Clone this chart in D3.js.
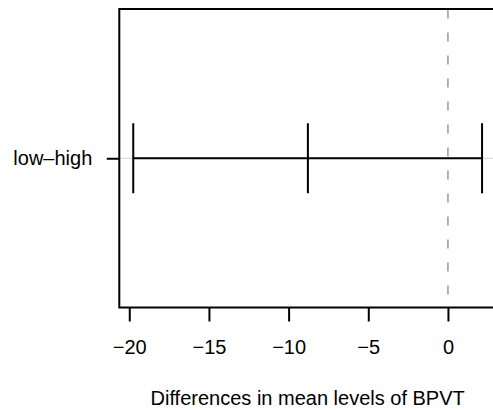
<!DOCTYPE html>
<html>
<head>
<meta charset="utf-8">
<script src="https://cdn.jsdelivr.net/npm/d3@7"></script>
<style>
  body { margin: 0; background: #fff; }
  text { font-family: "Liberation Sans", Arial, sans-serif; }
</style>
</head>
<body>
<div id="chart"></div>
<script>
// Tukey HSD: one comparison, 95% family-wise confidence level
var comparisons = ["low\u2013high"];
var diffs = [-8.79];
var lowers = [-19.75];
var uppers = [2.14];
var xTicks = [-20, -15, -10, -5, 0];
var xTitle = "Differences in mean levels of BPVT";

var width = 493, height = 410;
var margin = { top: 9, right: -3, bottom: 102.5, left: 119.3 };
var plotW = width - margin.left - margin.right,
    plotH = height - margin.top - margin.bottom;

var svg = d3.select("#chart")
    .append("svg")
    .attr("width", width)
    .attr("height", height)
    .append("g")
    .attr("transform", "translate(" + margin.left + "," + margin.top + ")");

// R-style 4% extension of the data range
var lo = d3.min(lowers), hi = d3.max(uppers), ext = (hi - lo) * 0.04;
var x = d3.scaleLinear()
    .domain([lo - ext, hi + ext])
    .range([0, plotW]);

var n = comparisons.length;
var yExt = n * 0.04;
var y = d3.scaleLinear()
    .domain([0.5 - yExt, n + 0.5 + yExt])
    .range([plotH, 0]);

// light grey guide for each comparison
svg.selectAll("line.guide")
    .data(comparisons)
    .enter().append("line")
    .attr("class", "guide")
    .attr("x1", 0).attr("x2", plotW)
    .attr("y1", function (d, i) { return y(n - i); })
    .attr("y2", function (d, i) { return y(n - i); })
    .attr("stroke", "#d3d3d3")
    .attr("stroke-width", 1);

// zero line
svg.append("line")
    .attr("x1", x(0)).attr("x2", x(0))
    .attr("y1", 0).attr("y2", plotH)
    .attr("stroke", "#7f7f7f")
    .attr("stroke-width", 1.2)
    .attr("stroke-dasharray", "9,14")
    .attr("stroke-dashoffset", -0.5);

// interval segments
svg.selectAll("line.ci")
    .data(comparisons)
    .enter().append("line")
    .attr("class", "ci")
    .attr("x1", function (d, i) { return x(lowers[i]); })
    .attr("x2", function (d, i) { return x(uppers[i]); })
    .attr("y1", function (d, i) { return y(n - i); })
    .attr("y2", function (d, i) { return y(n - i); })
    .attr("stroke", "#000")
    .attr("stroke-width", 2);

// "|" marks at lower, estimate, upper
var marks = [];
comparisons.forEach(function (d, i) {
    marks.push({ v: lowers[i], r: n - i });
    marks.push({ v: diffs[i], r: n - i });
    marks.push({ v: uppers[i], r: n - i });
});
svg.selectAll("line.mark")
    .data(marks)
    .enter().append("line")
    .attr("class", "mark")
    .attr("x1", function (d) { return x(d.v); })
    .attr("x2", function (d) { return x(d.v); })
    .attr("y1", function (d) { return y(d.r) - 35; })
    .attr("y2", function (d) { return y(d.r) + 35; })
    .attr("stroke", "#000")
    .attr("stroke-width", 2);

// bottom axis
var xAxis = svg.append("g")
    .attr("transform", "translate(0," + plotH + ")")
    .call(d3.axisBottom(x).tickValues(xTicks).tickSize(14).tickSizeOuter(0).tickPadding(18.5));
xAxis.select(".domain").remove();
xAxis.selectAll("line").attr("stroke", "#000").attr("stroke-width", 2);
xAxis.selectAll("text").attr("font-size", "20px").attr("fill", "#000")
    .attr("font-family", "Liberation Sans, Arial, sans-serif");

// left axis
var yAxis = svg.append("g")
    .call(d3.axisLeft(y).tickValues(d3.range(1, n + 1))
        .tickFormat(function (v) { return comparisons[n - v]; })
        .tickSize(12.5).tickSizeOuter(0).tickPadding(14.5));
yAxis.select(".domain").remove();
yAxis.selectAll("line").attr("stroke", "#000").attr("stroke-width", 2);
yAxis.selectAll("text").attr("font-size", "20px").attr("fill", "#000")
    .attr("font-family", "Liberation Sans, Arial, sans-serif");

// plot box
svg.append("rect")
    .attr("x", 0).attr("y", 0)
    .attr("width", plotW).attr("height", plotH)
    .attr("fill", "none")
    .attr("stroke", "#000")
    .attr("stroke-width", 2);

// x title
svg.append("text")
    .attr("x", plotW / 2)
    .attr("y", plotH + 97)
    .attr("text-anchor", "middle")
    .attr("font-size", "20px")
    .attr("fill", "#000")
    .text(xTitle);
</script>
</body>
</html>
